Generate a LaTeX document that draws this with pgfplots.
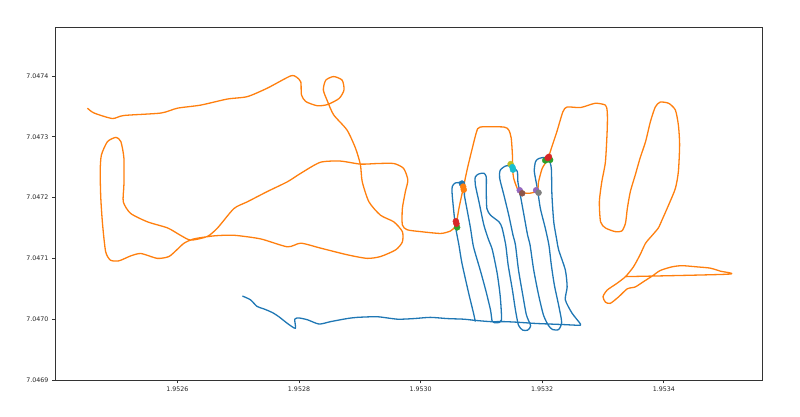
\documentclass[border=0pt]{standalone}
\usepackage{fontspec}
\setmainfont{DejaVu Sans}
\usepackage{pgfplots}
\usepackage{pgfplotstable}
\pgfplotsset{compat=1.18}

\definecolor{tabblue}{HTML}{1F77B4}
\definecolor{taborange}{HTML}{FF7F0E}
\definecolor{tabgreen}{HTML}{2CA02C}
\definecolor{tabred}{HTML}{D62728}
\definecolor{tabpurple}{HTML}{9467BD}
\definecolor{tabbrown}{HTML}{8C564B}
\definecolor{tabgray}{HTML}{7F7F7F}
\definecolor{tabolive}{HTML}{BCBD22}
\definecolor{tabcyan}{HTML}{17BECF}

% coordinates in metres, stored as offsets: x = easting - 1952000, y = northing - 7046000
% (full 7-digit values lose precision in the pgf fpu)
\pgfplotstableread{
x y
707 1038
720 1032
731 1021
742 1017
756 1011
767 1004
781 993
794 985
793 1000
800 1002
814 999
833 992
852 996
879 1001
896 1003
929 1004
962 1000
989 1001
1016 1003
1044 1001
1071 1000
1090 998
1115 996
1137 996
1159 995
1189 993
1213 992
1238 991
1260 990
1263 992
1249 1010
1238 1032
1241 1053
1238 1081
1227 1114
1224 1130
1219 1160
1216 1204
1215 1248
1211 1262
1204 1266
1194 1264
1189 1259
1187 1243
1192 1215
1197 1182
1205 1150
1211 1122
1215 1089
1220 1056
1227 1023
1232 995
1227 983
1217 983
1210 990
1202 1007
1194 1040
1186 1081
1180 1122
1176 1138
1170 1171
1164 1204
1160 1226
1159 1243
1151 1251
1140 1252
1131 1245
1130 1232
1137 1204
1145 1171
1152 1138
1156 1122
1161 1081
1168 1040
1174 1007
1181 989
1176 982
1168 982
1161 990
1156 1015
1151 1048
1144 1089
1140 1122
1134 1150
1129 1160
1115 1171
1109 1182
1108 1210
1108 1234
1104 1240
1096 1239
1090 1234
1090 1221
1096 1193
1104 1155
1112 1130
1118 1114
1126 1075
1131 1037
1133 999
1126 994
1118 996
1115 1015
1107 1048
1098 1081
1087 1119
1082 1150
1077 1177
1072 1204
1072 1215
1068 1224
1057 1224
1052 1218
1052 1204
1057 1155
1063 1122
1068 1092
1079 1043
1087 1010
1090 996
}\bluetrack

\pgfplotstableread{
x y
452 1347
463 1339
493 1330
512 1335
573 1339
600 1347
638 1352
682 1362
715 1366
748 1380
786 1400
796 1398
803 1390
804 1369
811 1358
830 1351
847 1353
866 1363
874 1377
871 1393
857 1399
844 1393
840 1377
847 1358
857 1336
879 1311
893 1281
901 1254
904 1226
915 1193
934 1171
956 1160
970 1144
970 1127
959 1114
934 1103
912 1100
879 1106
835 1117
803 1125
781 1119
737 1132
693 1138
660 1137
627 1132
611 1125
600 1115
586 1103
567 1100
540 1108
523 1104
504 1096
490 1097
482 1111
477 1155
474 1199
473 1243
475 1270
485 1292
499 1299
507 1292
512 1265
512 1221
511 1193
523 1174
551 1160
584 1150
605 1138
622 1130
649 1136
666 1150
693 1182
715 1193
748 1210
781 1226
803 1240
835 1258
868 1260
901 1255
929 1256
956 1256
972 1248
979 1229
975 1210
970 1182
970 1155
978 1147
1000 1144
1033 1141
1049 1145
1057 1152
1059 1158
1063 1182
1070 1215
1077 1248
1085 1281
1092 1308
1098 1316
1137 1316
1145 1311
1149 1298
1151 1270
1151 1251
1153 1232
1159 1215
1164 1209
1178 1207
1192 1211
1194 1226
1200 1248
1209 1263
1216 1284
1224 1308
1234 1341
1241 1349
1263 1348
1287 1355
1304 1352
1307 1341
1307 1314
1304 1259
1298 1226
1294 1193
1296 1160
1304 1150
1320 1144
1331 1145
1337 1158
1340 1182
1345 1210
1353 1237
1361 1265
1370 1292
1378 1325
1386 1349
1394 1357
1408 1355
1419 1344
1424 1319
1426 1287
1424 1243
1419 1215
1408 1188
1397 1163
1391 1150
1381 1138
1370 1125
1361 1106
1350 1086
1337 1070
1323 1059
1307 1048
1300 1037
1304 1028
1312 1026
1326 1037
1340 1050
1353 1053
1367 1062
1381 1071
1394 1080
1413 1086
1430 1088
1455 1086
1476 1084
1493 1079
1506 1074
1337 1070
}\orangetrack

\begin{document}
\begin{tikzpicture}
\path[use as bounding box] (-55.5pt,-37pt) rectangle (744.5pt,380pt);
\begin{axis}[
    at={(0pt,0pt)}, anchor=south west,
    scale only axis,
    width=706.5pt, height=352.7pt,
    xmin=399.5, xmax=1561.5,
    ymin=900, ymax=1480,
    axis line style={black!80, line width=0.7pt},
    tick style={black!80, line width=0.7pt},
    tick align=outside,
    major tick length=3.5pt,
    xtick pos=lower, ytick pos=left,
    xtick={600,800,1000,1200,1400},
    xticklabels={1.9526,1.9528,1.9530,1.9532,1.9534},
    ytick={900,1000,1100,1200,1300,1400},
    yticklabels={7.0469,7.0470,7.0471,7.0472,7.0473,7.0474},
    ticklabel style={font=\fontsize{6.3}{7.5}\selectfont, text=black!85},
    /pgf/number format/assume math mode=true,
]
\addplot[tabblue, line width=1.3pt, line join=round, smooth, tension=0.4] table {\bluetrack};
\addplot[taborange, line width=1.3pt, line join=round, smooth, tension=0.4] table {\orangetrack};

\addplot[only marks, mark=*, mark size=3pt, color=tabgreen] coordinates {(1060,1151) (1205,1261) (1213,1262)};
\addplot[only marks, mark=*, mark size=3pt, color=tabred] coordinates {(1058,1161) (1059,1157) (1209,1265) (1211,1267)};
\addplot[only marks, mark=*, mark size=3pt, color=tabpurple] coordinates {(1163,1212) (1190,1212)};
\addplot[only marks, mark=*, mark size=3pt, color=tabbrown] coordinates {(1167,1207)};
\addplot[only marks, mark=*, mark size=3pt, color=tabgray] coordinates {(1194,1208)};
\addplot[only marks, mark=*, mark size=3pt, color=tabolive] coordinates {(1148,1255)};
\addplot[only marks, mark=*, mark size=3pt, color=tabcyan] coordinates {(1151,1250) (1152,1246)};
\addplot[only marks, mark=*, mark size=3pt, color=tabblue] coordinates {(1068,1223)};
\addplot[only marks, mark=*, mark size=3pt, color=taborange] coordinates {(1070,1218) (1071,1213)};

\node[anchor=south west, inner sep=0pt, yshift=2pt, font=\fontsize{6.3}{7.5}\selectfont, text=black!85] at (rel axis cs:0,1) {1e6};
\node[anchor=north east, inner sep=0pt, yshift=-14pt, font=\fontsize{6.3}{7.5}\selectfont, text=black!85] at (rel axis cs:1,0) {1e6};
\end{axis}
\end{tikzpicture}
\end{document}
